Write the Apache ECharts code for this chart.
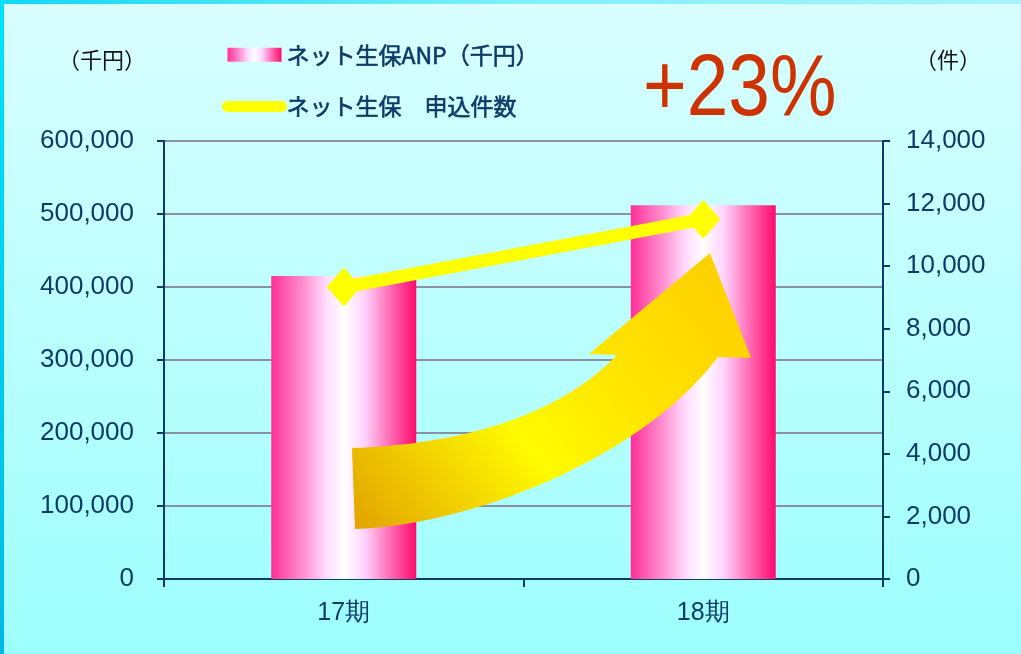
<!DOCTYPE html>
<html>
<head>
<meta charset="utf-8">
<script src="https://cdn.jsdelivr.net/npm/echarts@6/dist/echarts.min.js"></script>
<style>
  html, body { margin: 0; padding: 0; }
  #charts { width: 1021px; height: 654px; }
</style>
</head>
<body>
<div id="charts"></div>
<script>
// 期ごとのデータ
var categories = ['17期', '18期'];
var anpValues = [415000, 512000];     // ネット生保ANP(千円)
var countValues = [9330, 11500];      // ネット生保 申込件数
var leftTicks = { min: 0, max: 600000, interval: 100000 };
var rightTicks = { min: 0, max: 14000, interval: 2000 };
var growthLabel = '+23%';

var navy = '#0d3a66';
var jp = '"Noto Sans CJK JP", "Noto Sans", sans-serif';
var num = '"Liberation Sans", Arial, sans-serif';

var myChart = echarts.init(document.getElementById('charts'));

// 3次ベジェを折れ線にする（飾りの矢印用）
function bezier(p0, p1, p2, p3, n) {
  var pts = [];
  for (var i = 0; i <= n; i++) {
    var t = i / n, u = 1 - t;
    pts.push([
      u * u * u * p0[0] + 3 * u * u * t * p1[0] + 3 * u * t * t * p2[0] + t * t * t * p3[0],
      u * u * u * p0[1] + 3 * u * u * t * p1[1] + 3 * u * t * t * p2[1] + t * t * t * p3[1]
    ]);
  }
  return pts;
}
var arrowPts = []
  .concat(bezier([352, 448], [450, 445], [555, 420], [617, 355], 30))
  .concat([[589, 354], [710, 253], [751, 358]])
  .concat(bezier([718, 357], [640, 460], [470, 525], [355, 529], 30));

var barGradient = new echarts.graphic.LinearGradient(0, 0, 1, 0, [
  { offset: 0, color: '#ff2f97' },
  { offset: 0.22, color: '#ff8fd0' },
  { offset: 0.38, color: '#ffdcff' },
  { offset: 0.5, color: '#ffffff' },
  { offset: 0.64, color: '#ffd4ff' },
  { offset: 0.82, color: '#ff6ab4' },
  { offset: 1, color: '#ff0a6c' }
]);

var option = {
  backgroundColor: new echarts.graphic.LinearGradient(0, 0, 0, 1, [
    { offset: 0, color: '#dafeff' },
    { offset: 1, color: '#9cfffd' }
  ]),
  animation: false,
  grid: { left: 164, right: 138, top: 141, bottom: 75 },
  legend: {
    orient: 'vertical',
    left: 217,
    top: 38,
    itemGap: 28,
    itemWidth: 54,
    itemHeight: 14,
    textStyle: {
      color: navy, fontSize: 23, fontFamily: jp,
      textBorderColor: navy, textBorderWidth: 0.6
    },
    data: [
      { name: 'ネット生保ANP（千円）', icon: 'rect' },
      { name: 'ネット生保　申込件数', lineStyle: { width: 11, cap: 'round' } }
    ]
  },
  xAxis: {
    type: 'category',
    data: categories,
    axisLine: { lineStyle: { color: navy, width: 2 } },
    axisTick: { show: true, length: 8, lineStyle: { color: navy, width: 2 } },
    axisLabel: { color: navy, fontSize: 25, fontFamily: num, margin: 22 }
  },
  yAxis: [
    {
      type: 'value',
      min: leftTicks.min, max: leftTicks.max, interval: leftTicks.interval,
      name: '（千円）',
      nameLocation: 'end',
      nameGap: 70,
      nameTextStyle: { color: '#111', fontSize: 22, fontFamily: jp, padding: [0, 124, 0, 0] },
      axisLine: { show: true, lineStyle: { color: navy, width: 2 } },
      axisTick: { show: true, length: 7, lineStyle: { color: navy, width: 2 } },
      axisLabel: {
        color: navy, fontSize: 26, fontFamily: num, margin: 30,
        formatter: function (v) { return v.toLocaleString('en-US'); }
      },
      splitLine: { lineStyle: { color: '#8a91a3', width: 2 } }
    },
    {
      type: 'value',
      position: 'right',
      min: rightTicks.min, max: rightTicks.max, interval: rightTicks.interval,
      name: '（件）',
      nameLocation: 'end',
      nameGap: 70,
      nameTextStyle: { color: '#111', fontSize: 22, fontFamily: jp, padding: [0, 0, 0, 130] },
      axisLine: { show: true, lineStyle: { color: navy, width: 2 } },
      axisTick: { show: true, length: 7, lineStyle: { color: navy, width: 2 } },
      axisLabel: {
        color: navy, fontSize: 26, fontFamily: num, margin: 23,
        formatter: function (v) { return v.toLocaleString('en-US'); }
      },
      splitLine: { show: false }
    }
  ],
  series: [
    {
      name: 'ネット生保ANP（千円）',
      type: 'bar',
      yAxisIndex: 0,
      data: anpValues,
      barWidth: 145,
      itemStyle: { color: barGradient },
      z: 2
    },
    {
      name: 'ネット生保　申込件数',
      type: 'line',
      yAxisIndex: 1,
      data: countValues,
      symbol: 'diamond',
      symbolSize: [34, 39],
      lineStyle: { color: '#ffff00', width: 13 },
      itemStyle: { color: '#ffff00' },
      z: 4
    }
  ],
  graphic: [
    // 外枠
    { type: 'rect', shape: { x: 0, y: 0, width: 1021, height: 4 }, style: { fill: new echarts.graphic.LinearGradient(0, 0, 1, 0, [
      { offset: 0, color: '#10d8f2' }, { offset: 0.5, color: '#7ef0fb' }, { offset: 1, color: '#a8f4fb' }
    ]) }, z: 10 },
    { type: 'rect', shape: { x: 0, y: 0, width: 4, height: 654 }, style: { fill: new echarts.graphic.LinearGradient(0, 0, 0, 1, [
      { offset: 0, color: '#00e3fb' }, { offset: 1, color: '#00b9e4' }
    ]) }, z: 10 },
    // 上昇矢印
    {
      type: 'polygon',
      z: 3,
      shape: { points: arrowPts },
      style: {
        fill: new echarts.graphic.LinearGradient(0, 1, 0.9, 0, [
          { offset: 0, color: '#e2a200' },
          { offset: 0.42, color: '#fffb00' },
          { offset: 0.72, color: '#ffe100' },
          { offset: 1, color: '#ffd000' }
        ])
      }
    },
    {
      type: 'text',
      x: 643,
      y: 47,
      scaleX: 0.85,
      scaleY: 1,
      z: 10,
      style: {
        text: growthLabel,
        fill: '#cc3300',
        font: '88px "Liberation Sans", sans-serif'
      }
    }
  ]
};

myChart.setOption(option);
window.addEventListener('resize', function () {
  myChart.resize();
});
</script>
</body>
</html>
